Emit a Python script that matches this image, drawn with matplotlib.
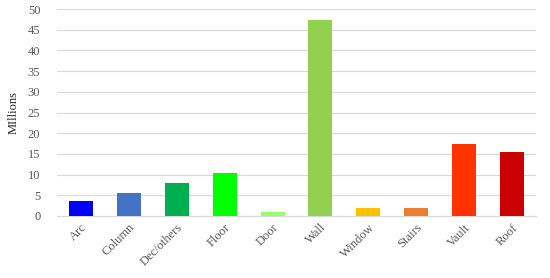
import matplotlib
matplotlib.use("Agg")
import matplotlib.pyplot as plt

categories = ["Arc", "Column", "Dec/others", "Floor", "Door", "Wall", "Window", "Stairs", "Vault", "Roof"]
values = [3.6, 5.6, 8.0, 10.4, 1.0, 47.4, 1.9, 1.9, 17.4, 15.4]
colors = ["#0000FF", "#4472C4", "#00B050", "#00FF00", "#99FF66", "#92D050", "#FFC000", "#ED7D31", "#FF3300", "#CC0000"]
yticks = [0, 5, 10, 15, 20, 25, 30, 35, 40, 45, 50]

plt.rcParams['font.family'] = ['Liberation Serif', 'DejaVu Serif']

fig = plt.figure(figsize=(5.5, 2.78), dpi=100)
ax = fig.add_axes([57/550, 1 - 216/278, (536-57)/550, (216-9)/278])

x = list(range(len(categories)))
ax.bar(x, values, width=0.5, color=colors, zorder=3)
ax.set_xlim(-0.5, len(categories) - 0.5)
ax.set_ylim(0, 50)
ax.set_yticks(yticks)
ax.yaxis.grid(True, color="#D9D9D9", linewidth=0.8, zorder=0)
for s in ["top", "right", "left"]:
    ax.spines[s].set_visible(False)
ax.spines["bottom"].set_color("#D9D9D9")
ax.tick_params(axis="both", length=0, colors="#595959", labelsize=9)
ax.tick_params(axis="y", pad=12)
ax.tick_params(axis="x", pad=4)
ax.set_xticks(x)
ax.set_xticklabels(categories, rotation=45, ha="right", rotation_mode="anchor")
ax.set_ylabel("MIllions", fontsize=9, color="#262626", labelpad=6)

fig.savefig("out.png", dpi=100)
